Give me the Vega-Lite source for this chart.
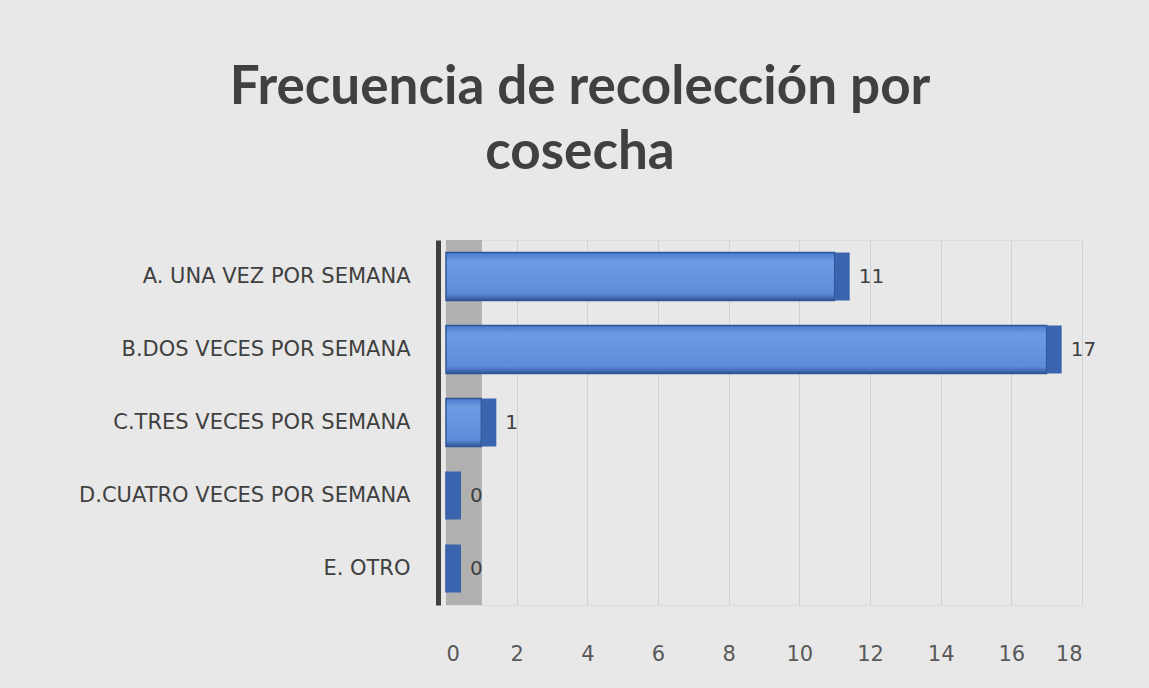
{
  "$schema": "https://vega.github.io/schema/vega-lite/v6.json",
  "width": 636,
  "height": 365,
  "autosize": {"type": "none"},
  "padding": {"left": 446, "top": 240, "right": 67, "bottom": 83},
  "background": "#e8e8e8",
  "title": {
    "text": ["Frecuencia de recolección por", "cosecha"],
    "font": "Lato",
    "fontSize": 53,
    "fontWeight": "bold",
    "color": "#404040",
    "anchor": "middle",
    "dx": -184,
    "offset": 60,
    "lineHeight": 65
  },
  "data": {
    "values": [
      {"categoria": "A. UNA VEZ POR SEMANA", "valor": 11},
      {"categoria": "B.DOS VECES POR SEMANA", "valor": 17},
      {"categoria": "C.TRES VECES POR SEMANA", "valor": 1},
      {"categoria": "D.CUATRO VECES POR SEMANA", "valor": 0},
      {"categoria": "E. OTRO", "valor": 0}
    ]
  },
  "layer": [
    {
      "mark": {"type": "rect", "color": "#b0b0b0"},
      "encoding": {
        "x": {"datum": 0, "type": "quantitative", "scale": {"domain": [0, 18], "nice": false}},
        "x2": {"datum": 1}
      }
    },
    {
      "mark": {
        "type": "bar",
        "fill": {
          "gradient": "linear", "x1": 0, "y1": 0, "x2": 0, "y2": 1,
          "stops": [
            {"offset": 0, "color": "#4a7acc"},
            {"offset": 0.18, "color": "#6d9ce4"},
            {"offset": 0.85, "color": "#5f8cda"},
            {"offset": 1, "color": "#2f5597"}
          ]
        },
        "stroke": "#2f5597",
        "strokeWidth": 1.5
      },
      "encoding": {
        "y": {
          "field": "categoria", "type": "nominal", "sort": null, "title": null,
          "scale": {"paddingInner": 0.34, "paddingOuter": 0.17},
          "axis": {
            "domain": true, "domainColor": "#404040", "domainWidth": 5, "offset": 8,
            "ticks": false, "labelFont": "DejaVu Sans", "labelFontSize": 21, "labelColor": "#404040",
            "labelPadding": 28, "labelLimit": 600
          }
        },
        "x": {
          "field": "valor", "type": "quantitative", "title": null,
          "scale": {"domain": [0, 18], "nice": false},
          "axis": {
            "values": [0, 2, 4, 6, 8, 10, 12, 14, 16, 18],
            "domain": false, "ticks": false, "grid": true, "gridColor": "#d2d2d2",
            "labelFont": "DejaVu Sans", "labelFontSize": 21, "labelColor": "#595959", "labelPadding": 38
          }
        }
      }
    },
    {
      "mark": {"type": "tick", "color": "#3a64ad", "thickness": 15, "size": 48, "xOffset": 7.5, "opacity": 1},
      "encoding": {
        "y": {"field": "categoria", "type": "nominal", "sort": null},
        "x": {"field": "valor", "type": "quantitative"}
      }
    },
    {
      "mark": {"type": "text", "align": "left", "dx": 24, "font": "DejaVu Sans", "fontSize": 20, "color": "#404040"},
      "encoding": {
        "y": {"field": "categoria", "type": "nominal", "sort": null},
        "x": {"field": "valor", "type": "quantitative"},
        "text": {"field": "valor", "type": "quantitative"}
      }
    }
  ]
}
